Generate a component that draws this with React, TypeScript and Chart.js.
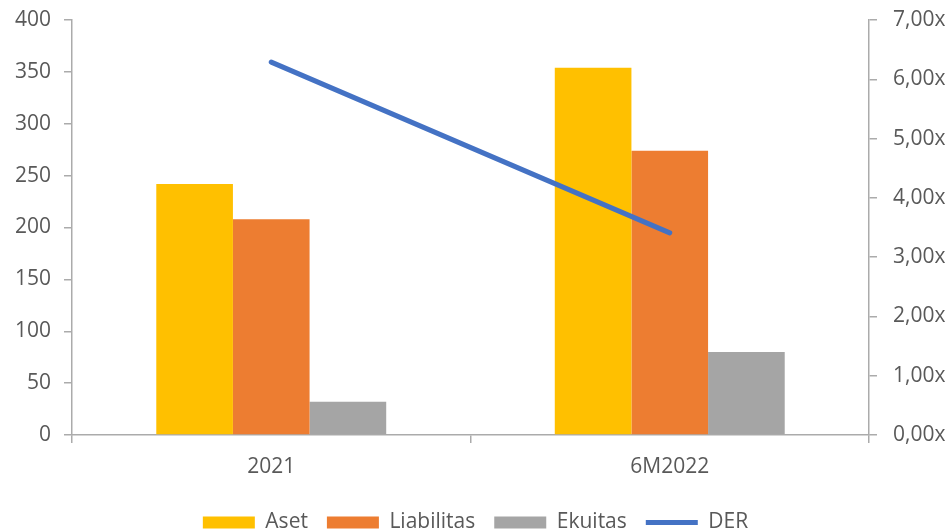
import React, { useEffect, useRef } from "react";
import { Chart, registerables } from "chart.js";

Chart.register(...registerables);

const categories = ["2021", "6M2022"];
const aset = [242, 354];
const liabilitas = [208, 274];
const ekuitas = [32, 80];
const der = [6.29, 3.41];
const seriesNames = ["Aset", "Liabilitas", "Ekuitas", "DER"];

const FONT = "'Open Sans', 'Noto Sans', sans-serif";
const TEXT = "#595959";
const AXIS = "#ABABAB";

export default function App() {
  const ref = useRef<HTMLCanvasElement | null>(null);

  useEffect(() => {
    document.body.style.margin = "0";
    if (!ref.current) return;
    const chart = new Chart(ref.current, {
      type: "bar",
      data: {
        labels: categories,
        datasets: [
          { type: "bar", label: seriesNames[0], data: aset, backgroundColor: "#FFC000", borderWidth: 0, order: 1, yAxisID: "y", pointStyle: "rect" },
          { type: "bar", label: seriesNames[1], data: liabilitas, backgroundColor: "#ED7D31", borderWidth: 0, order: 1, yAxisID: "y", pointStyle: "rect" },
          { type: "bar", label: seriesNames[2], data: ekuitas, backgroundColor: "#A5A5A5", borderWidth: 0, order: 1, yAxisID: "y", pointStyle: "rect" },
          {
            type: "line",
            label: seriesNames[3],
            data: der,
            borderColor: "#4472C4",
            backgroundColor: "#4472C4",
            borderWidth: 5,
            borderCapStyle: "round",
            pointRadius: 0,
            pointStyle: "line",
            tension: 0,
            order: 0,
            yAxisID: "y1",
          },
        ],
      } as any,
      options: {
        animation: false,
        responsive: true,
        maintainAspectRatio: false,
        layout: { padding: { top: 20, bottom: -12, left: 0, right: 0 } },
        datasets: { bar: { categoryPercentage: 0.577, barPercentage: 1 } },
        plugins: {
          tooltip: { enabled: false },
          legend: {
            position: "bottom",
            labels: {
              sort: (a: any, b: any) => a.datasetIndex - b.datasetIndex,
              usePointStyle: true,
              pointStyleWidth: 52,
              boxHeight: 12,
              padding: 19,
              color: TEXT,
              font: { family: FONT, size: 21 },
            },
          },
        },
        scales: {
          x: {
            type: "category",
            offset: true,
            grid: { display: true, drawOnChartArea: false, drawTicks: true, tickLength: 8, color: AXIS, lineWidth: 1.5, offset: true },
            border: { display: true, color: AXIS, width: 1.5 },
            ticks: { color: TEXT, font: { family: FONT, size: 21 }, padding: 11 },
            afterFit: (s: any) => { s.height = 58; s.paddingLeft = 0; s.paddingRight = 0; },
          },
          y: {
            type: "linear",
            position: "left",
            min: 0,
            max: 400,
            ticks: { stepSize: 50, color: TEXT, font: { family: FONT, size: 21 }, padding: 13 },
            grid: { display: true, drawOnChartArea: false, drawTicks: true, tickLength: 8, color: AXIS, lineWidth: 1.5 },
            border: { display: true, color: AXIS, width: 1.5 },
            afterFit: (s: any) => { s.width = 72; s.paddingTop = 0; s.paddingBottom = 0; },
          },
          y1: {
            type: "linear",
            position: "right",
            min: 0,
            max: 7,
            ticks: {
              stepSize: 1,
              color: TEXT,
              font: { family: FONT, size: 21 },
              padding: 16,
              callback: (v: any) => Number(v).toFixed(2).replace(".", ",") + "x",
            },
            grid: { display: true, drawOnChartArea: false, drawTicks: true, tickLength: 8, color: AXIS, lineWidth: 1.5 },
            border: { display: true, color: AXIS, width: 1.5 },
            afterFit: (s: any) => { s.width = 82; s.paddingTop = 0; s.paddingBottom = 0; },
          },
        },
      } as any,
    });
    return () => chart.destroy();
  }, []);

  return (
    <div style={{ position: "absolute", left: 0, top: 0, width: 951, height: 531, background: "#fff" }}>
      <canvas ref={ref} />
    </div>
  );
}
